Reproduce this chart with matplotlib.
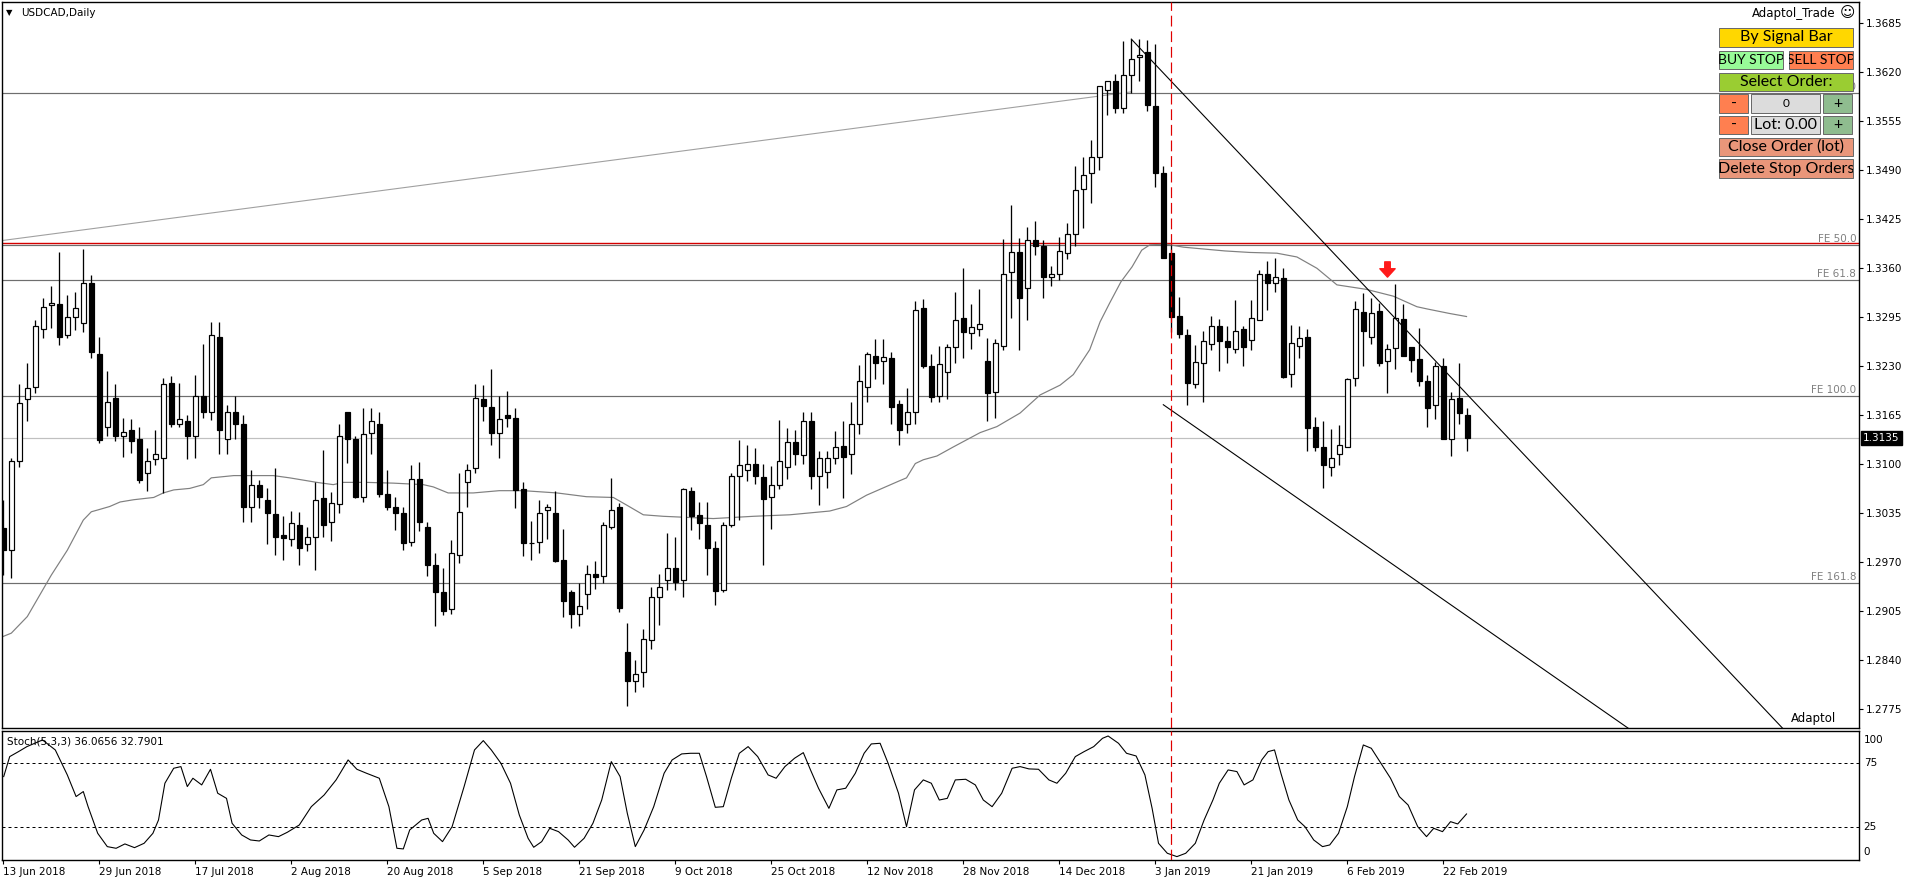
import matplotlib
matplotlib.use('Agg')
import matplotlib.pyplot as plt
import numpy as np
from matplotlib.patches import Rectangle
from matplotlib.path import Path
import matplotlib.transforms as mtransforms

W, H, DPI = 1916, 884, 100

# ---------------- data ----------------
symbol_title = "USDCAD,Daily"
stoch_title = "Stoch(5,3,3) 36.0656 32.7901"
date_labels = ["13 Jun 2018", "29 Jun 2018", "17 Jul 2018", "2 Aug 2018", "20 Aug 2018",
               "5 Sep 2018", "21 Sep 2018", "9 Oct 2018", "25 Oct 2018", "12 Nov 2018",
               "28 Nov 2018", "14 Dec 2018", "3 Jan 2019", "21 Jan 2019", "6 Feb 2019",
               "22 Feb 2019"]
date_label_bars = [0, 12, 24, 36, 48, 60, 72, 84, 96, 108, 120, 132, 144, 156, 168, 180]
price_ticks = [1.3685, 1.3620, 1.3555, 1.3490, 1.3425, 1.3360, 1.3295, 1.3230, 1.3165,
               1.3100, 1.3035, 1.2970, 1.2905, 1.2840, 1.2775]
stoch_levels = [100, 75, 25, 0]

ohlc = [
 (1.3015,1.3053,1.2953,1.2986),(1.2986,1.3108,1.2949,1.3104),(1.3104,1.3206,1.3096,1.3181),
 (1.3186,1.3235,1.3158,1.3201),(1.3203,1.3292,1.3195,1.3284),(1.3279,1.3320,1.3267,1.3309),
 (1.3311,1.3336,1.3281,1.3314),(1.3313,1.3381,1.3258,1.3269),(1.3271,1.3324,1.3267,1.3296),
 (1.3295,1.3328,1.3278,1.3307),(1.3288,1.3385,1.3276,1.3340),(1.3340,1.3351,1.3241,1.3249),
 (1.3246,1.3269,1.3128,1.3132),(1.3150,1.3224,1.3137,1.3183),(1.3188,1.3206,1.3131,1.3137),
 (1.3138,1.3161,1.3110,1.3143),(1.3146,1.3160,1.3115,1.3131),(1.3134,1.3150,1.3075,1.3079),
 (1.3089,1.3121,1.3064,1.3105),(1.3107,1.3146,1.3099,1.3113),(1.3109,1.3215,1.3062,1.3206),
 (1.3208,1.3217,1.3149,1.3153),(1.3154,1.3208,1.3149,1.3160),(1.3157,1.3165,1.3107,1.3137),
 (1.3137,1.3218,1.3109,1.3191),(1.3191,1.3259,1.3161,1.3169),(1.3169,1.3289,1.3159,1.3271),
 (1.3269,1.3289,1.3113,1.3145),(1.3133,1.3179,1.3113,1.3170),(1.3169,1.3191,1.3134,1.3153),
 (1.3154,1.3165,1.3023,1.3044),(1.3043,1.3093,1.3023,1.3072),(1.3073,1.3079,1.3042,1.3057),
 (1.3053,1.3068,1.2994,1.3035),(1.3034,1.3095,1.2980,1.3004),(1.3006,1.3032,1.2973,1.3002),
 (1.3001,1.3038,1.2992,1.3022),(1.3020,1.3037,1.2966,1.2989),(1.2994,1.3017,1.2985,1.3003),
 (1.3003,1.3077,1.2960,1.3053),(1.3055,1.3119,1.3004,1.3019),(1.3023,1.3063,1.2998,1.3048),
 (1.3047,1.3154,1.3035,1.3137),(1.3169,1.3170,1.3102,1.3133),(1.3133,1.3137,1.3055,1.3057),
 (1.3056,1.3174,1.3050,1.3140),(1.3141,1.3174,1.3113,1.3157),(1.3154,1.3169,1.3057,1.3060),
 (1.3060,1.3093,1.3039,1.3044),(1.3043,1.3056,1.3013,1.3035),(1.3036,1.3043,1.2986,1.2995),
 (1.2997,1.3099,1.2991,1.3080),(1.3080,1.3103,1.3011,1.3024),(1.3017,1.3024,1.2952,1.2966),
 (1.2966,1.2982,1.2886,1.2931),(1.2930,1.2962,1.2900,1.2905),(1.2908,1.3000,1.2901,1.2982),
 (1.2980,1.3088,1.2969,1.3037),(1.3076,1.3101,1.3044,1.3093),(1.3095,1.3206,1.3088,1.3188),
 (1.3186,1.3205,1.3158,1.3177),(1.3176,1.3227,1.3126,1.3142),(1.3141,1.3191,1.3109,1.3160),
 (1.3165,1.3197,1.3150,1.3162),(1.3161,1.3174,1.3042,1.3066),(1.3067,1.3076,1.2979,1.2995),
 (1.2995,1.3025,1.2973,1.2996),(1.2997,1.3053,1.2982,1.3036),(1.3039,1.3047,1.3001,1.3043),
 (1.3036,1.3065,1.2970,1.2972),(1.2973,1.3014,1.2898,1.2918),(1.2930,1.2933,1.2883,1.2901),
 (1.2902,1.2943,1.2885,1.2912),(1.2928,1.2966,1.2908,1.2954),(1.2955,1.2972,1.2934,1.2951),
 (1.2952,1.3024,1.2942,1.3020),(1.3017,1.3082,1.3014,1.3040),(1.3043,1.3049,1.2904,1.2909),
 (1.2851,1.2889,1.2780,1.2812),(1.2812,1.2840,1.2798,1.2822),(1.2825,1.2882,1.2805,1.2868),
 (1.2867,1.2937,1.2855,1.2924),(1.2924,1.2955,1.2887,1.2937),(1.2946,1.3009,1.2933,1.2962),
 (1.2963,1.3003,1.2933,1.2944),(1.2946,1.3068,1.2924,1.3067),(1.3065,1.3070,1.3013,1.3032),
 (1.3033,1.3050,1.3001,1.3022),(1.3020,1.3050,1.2953,1.2989),(1.2989,1.2998,1.2913,1.2932),
 (1.2933,1.3024,1.2931,1.3020),(1.3019,1.3089,1.3017,1.3084),(1.3084,1.3132,1.3026,1.3099),
 (1.3093,1.3126,1.3078,1.3100),(1.3100,1.3121,1.3074,1.3084),(1.3083,1.3100,1.2967,1.3054),
 (1.3056,1.3098,1.3014,1.3072),(1.3072,1.3159,1.3067,1.3104),(1.3096,1.3148,1.3081,1.3129),
 (1.3130,1.3146,1.3099,1.3113),(1.3112,1.3169,1.3101,1.3158),(1.3157,1.3169,1.3067,1.3084),
 (1.3084,1.3118,1.3046,1.3108),(1.3090,1.3118,1.3069,1.3108),(1.3109,1.3144,1.3101,1.3123),
 (1.3124,1.3157,1.3055,1.3110),(1.3113,1.3182,1.3087,1.3153),(1.3154,1.3232,1.3140,1.3211),
 (1.3202,1.3249,1.3182,1.3246),(1.3244,1.3266,1.3213,1.3235),(1.3237,1.3266,1.3206,1.3242),
 (1.3241,1.3249,1.3154,1.3176),(1.3180,1.3185,1.3125,1.3146),(1.3153,1.3201,1.3141,1.3169),
 (1.3170,1.3317,1.3154,1.3304),(1.3307,1.3319,1.3228,1.3231),(1.3231,1.3246,1.3182,1.3189),
 (1.3191,1.3257,1.3183,1.3233),(1.3223,1.3260,1.3186,1.3255),(1.3255,1.3328,1.3235,1.3292),
 (1.3294,1.3360,1.3241,1.3275),(1.3274,1.3313,1.3253,1.3282),(1.3280,1.3333,1.3270,1.3286),
 (1.3237,1.3267,1.3158,1.3195),(1.3196,1.3266,1.3162,1.3261),(1.3257,1.3399,1.3251,1.3353),
 (1.3355,1.3444,1.3294,1.3381),(1.3381,1.3400,1.3252,1.3320),(1.3334,1.3415,1.3292,1.3397),
 (1.3397,1.3423,1.3378,1.3389),(1.3389,1.3398,1.3320,1.3349),(1.3348,1.3363,1.3336,1.3353),
 (1.3353,1.3401,1.3345,1.3383),(1.3380,1.3420,1.3372,1.3405),(1.3405,1.3496,1.3389,1.3464),
 (1.3465,1.3508,1.3414,1.3484),(1.3486,1.3530,1.3446,1.3507),(1.3508,1.3602,1.3490,1.3602),
 (1.3596,1.3609,1.3563,1.3609),(1.3609,1.3618,1.3566,1.3572),(1.3572,1.3661,1.3566,1.3617),
 (1.3617,1.3664,1.3593,1.3637),(1.3640,1.3664,1.3608,1.3643),(1.3647,1.3663,1.3568,1.3576),
 (1.3575,1.3658,1.3468,1.3487),(1.3486,1.3496,1.3373,1.3373),(1.3380,1.3391,1.3276,1.3296),
 (1.3297,1.3322,1.3267,1.3273),(1.3272,1.3279,1.3178,1.3208),(1.3206,1.3258,1.3201,1.3236),
 (1.3235,1.3277,1.3182,1.3264),(1.3259,1.3297,1.3251,1.3283),(1.3283,1.3293,1.3224,1.3264),
 (1.3264,1.3284,1.3234,1.3255),(1.3253,1.3318,1.3247,1.3277),(1.3279,1.3284,1.3230,1.3255),
 (1.3265,1.3318,1.3251,1.3294),(1.3292,1.3358,1.3292,1.3353),(1.3352,1.3369,1.3304,1.3340),
 (1.3341,1.3373,1.3328,1.3348),(1.3347,1.3361,1.3214,1.3216),(1.3220,1.3285,1.3202,1.3261),
 (1.3257,1.3284,1.3241,1.3267),(1.3269,1.3280,1.3117,1.3148),(1.3149,1.3163,1.3117,1.3123),
 (1.3123,1.3158,1.3068,1.3099),(1.3096,1.3147,1.3084,1.3108),(1.3113,1.3152,1.3099,1.3125),
 (1.3123,1.3214,1.3123,1.3213),(1.3214,1.3317,1.3204,1.3306),(1.3302,1.3327,1.3230,1.3277),
 (1.3269,1.3321,1.3260,1.3301),(1.3303,1.3314,1.3231,1.3235),(1.3237,1.3260,1.3194,1.3253),
 (1.3254,1.3339,1.3226,1.3294),(1.3293,1.3312,1.3243,1.3243),(1.3255,1.3256,1.3223,1.3238),
 (1.3240,1.3281,1.3204,1.3210),(1.3211,1.3218,1.3149,1.3174),(1.3178,1.3236,1.3160,1.3230),
 (1.3230,1.3241,1.3133,1.3133),(1.3133,1.3196,1.3111,1.3187),(1.3188,1.3235,1.3153,1.3168),
 (1.3166,1.3175,1.3117,1.3135),
]
opens = [r[0] for r in ohlc]
highs = [r[1] for r in ohlc]
lows = [r[2] for r in ohlc]
closes = [r[3] for r in ohlc]

# moving average (bar index, price)
ma_bars = [-0.4, 1, 3, 6, 8, 10, 11, 12, 13.3, 14.6, 16.3, 18.8, 20, 21.3, 23.3, 25, 26, 28.8,
           33.75, 35.8, 39.2, 41.25, 42.5, 45.4, 48.75, 52.5, 53.75, 55.6, 58.75, 62, 65, 69.2,
           72.9, 76.25, 77.9, 80, 82.5, 88.75, 93.75, 98.3, 103.3, 105.4, 107.9, 112, 112.9, 114,
           115, 116.7, 118.75, 122.1, 124.2, 127.1, 129.6, 132.1, 133.75, 135.8, 137.1, 138.3,
           139.7, 141.1, 142.3, 143.3, 145.4, 147.5, 152.7, 155.8, 159.2, 161.7, 164.2, 166.7,
           170.4, 173.75, 176.7, 178, 180.8, 182.9]
ma_vals = [1.2870, 1.2876, 1.2898, 1.2953, 1.2986, 1.3026, 1.3037, 1.3040, 1.3044, 1.3050,
           1.3053, 1.3056, 1.3062, 1.3066, 1.3068, 1.3073, 1.3082, 1.3085, 1.3085, 1.3082,
           1.3076, 1.3073, 1.3076, 1.3076, 1.3075, 1.3073, 1.3070, 1.3062, 1.3062, 1.3065,
           1.3065, 1.3062, 1.3057, 1.3056, 1.3046, 1.3033, 1.3031, 1.3028, 1.3031, 1.3033,
           1.3038, 1.3044, 1.3059, 1.3078, 1.3082, 1.3101, 1.3106, 1.3111, 1.3123, 1.3142,
           1.3150, 1.3168, 1.3192, 1.3205, 1.3219, 1.3252, 1.3289, 1.3314, 1.3342, 1.3362,
           1.3384, 1.3391, 1.3392, 1.3388, 1.3383, 1.3381, 1.3380, 1.3375, 1.3360, 1.3338,
           1.3332, 1.3323, 1.3309, 1.3306, 1.3300, 1.3296]

# stochastic main line (bar index, value)
stoch_bars = [0.05,0.8,1.9,2.95,4.9,6.5,8.0,9.1,10,10.6,11.8,13,14.1,15.2,16.4,17.6,18.7,19.4,20.2,
              21.3,22.2,23,23.7,24.8,25.9,26.8,27.9,28.6,29.8,30.9,32,33.2,34.4,35.5,37,38.5,40.1,
              41.6,43.1,44.2,45.4,47,48.2,49.2,50,50.8,52.3,53.1,53.8,54.9,56.1,57.6,58.9,60,61,
              62.2,63.4,64.5,65.6,66.3,67.3,68.3,69.4,70.6,71.4,72.6,73.7,74.8,76,77.1,78,79,80.1,
              81.3,82.6,83.6,84.8,85.9,87,87.9,89,90,91,92,93.1,94.3,95.6,96.6,97.7,98.9,100,
              100.9,101.9,103.2,104.2,105.3,106.5,107.6,108.5,109.6,110.6,111.9,112.9,113.9,115,
              116,117,118,119,120.3,121.5,122.5,123.6,124.8,126.1,127.1,128.2,129.4,130.7,131.7,
              132.8,134,135.1,136.3,137.4,138.1,139.4,140.4,141.6,142.7,143.6,144.4,145.5,146.7,
              147.8,149,150.1,151.2,152,153.1,154.2,155.1,156.2,157.3,158.1,158.9,159.7,160.7,
              161.8,162.7,163.8,164.9,165.8,166.9,168,168.9,170,171,172.2,173.4,174.5,175.6,
              176.8,177.9,178.8,179.9,180.9,181.8,182.9]
stoch_vals = [64.6,80.2,84.1,88,93.2,85.4,65.9,49,52.9,41.1,20.3,9.9,8.6,12,9.1,12.5,20.3,30.7,59.4,
              71.1,72.4,56.8,63.3,58.1,70.3,51.6,47.6,28.1,19,15.1,14.3,19,17.7,21.1,26.8,41.1,50.2,
              62,77.6,70.3,67.2,63.3,41.1,8.6,8.1,22.9,30.7,32,20.3,13.8,25.5,56.8,85.4,92.7,85.4,
              75,59.4,34.6,16.4,9.4,13.8,24.2,21.6,15.1,9.4,16.4,28.1,46.3,76.3,64.6,35.9,9.9,22.9,
              41.1,67.2,77.6,82.3,82.8,82.8,64.6,40.6,41.1,63.3,82.8,88,80.2,65.9,63.3,72.4,78.9,83.3,
              69.8,55.5,39.8,54.2,55.5,67.2,82.8,90.1,90.6,75,51.6,25.5,54.2,62,
              59.4,46.3,47.6,62,62.5,58.1,46.3,41.1,51.6,71.1,72.4,70.6,70.3,62,59.4,
              67.2,80.2,84.1,88,94.5,96.3,90.6,82.8,80.7,65.9,39.8,12.5,4.7,2.1,
              4.7,12.5,30.7,46.3,59.4,69.8,68.5,58.1,62,77.6,84.1,85.4,67.2,46.3,
              30.7,25.5,15.1,9.9,11.2,20.3,41.1,64.6,89.3,86.7,75,63.3,49,42.4,
              25.5,17.7,24.2,21.6,29.4,27.6,35.4]

fe_names = ["FE 0.0", "FE 50.0", "FE 61.8", "FE 100.0", "FE 161.8"]
fe_prices = [1.3592, 1.3391, 1.3344, 1.3190, 1.2942]
red_level = 1.3393
bid_price = 1.3135
vline_bar = 146
gray_line_bars, gray_line_prices = [-5, 141], [1.3390, 1.3594]
trend1_bars, trend1_prices = [141, 222.4], [1.3664, 1.2750]
trend2_bars, trend2_prices = [145, 203.1], [1.3179, 1.2750]
arrow_bar, arrow_price = 173, 1.3359

# ---------------- figure ----------------
plt.rcParams['font.family'] = ['DejaVu Sans']
fig = plt.figure(figsize=(W / DPI, H / DPI), dpi=DPI)
fig.patch.set_facecolor('white')

def px_rect(x0, y0, x1, y1):
    return [x0 / W, 1 - y1 / H, (x1 - x0) / W, (y1 - y0) / H]

ax = fig.add_axes(px_rect(2, 2, 1859, 728.3))
ax2 = fig.add_axes(px_rect(2, 731, 1859, 860))
XL = (-0.1625, 231.96)
ax.set_xlim(*XL)
ax2.set_xlim(*XL)
ax.set_ylim(1.27498, 1.37132)
ax2.set_ylim(-0.55, 100.2)
for a in (ax, ax2):
    for s in a.spines.values():
        s.set_linewidth(1.0)
        s.set_color('black')

PX = 72.0 / DPI  # one pixel in points

# horizontal levels
for p in fe_prices:
    ax.axhline(p, color='#6e6e6e', lw=1.2 * PX, zorder=1)
ax.axhline(red_level, color='#d40000', lw=1.4 * PX, zorder=1.5)
ax.axhline(bid_price, color='#c0c0c0', lw=1.2 * PX, zorder=1)
for name, p in zip(fe_names, fe_prices):
    t = ax.annotate(name, xy=(1, p), xycoords=('axes fraction', 'data'), xytext=(-2, 1),
                    textcoords='offset points', ha='right', va='bottom', fontsize=7.5,
                    color='#808080', zorder=2)
    if name == "FE 0.0":
        # mostly hidden behind the trade-panel buttons, as in the source chart
        t.set_fontsize(7.5)
        clip = Rectangle((1853.5 / W, 1 - 95 / H), 6 / W, 20 / H, transform=fig.transFigure,
                         visible=False)
        fig.add_artist(clip)
        t.set_clip_path(clip)

# trend lines
ax.plot(gray_line_bars, gray_line_prices, color='#a0a0a0', lw=1.1 * PX, zorder=1.2)
ax.plot(trend1_bars, trend1_prices, color='black', lw=1.1 * PX, zorder=4)
ax.plot(trend2_bars, trend2_prices, color='black', lw=1.1 * PX, zorder=4)

# moving average
ax.plot(ma_bars, ma_vals, color='#808080', lw=1.2 * PX, zorder=1.8)

# candles
x = np.arange(len(opens))
o, hi, lo, c = map(np.asarray, (opens, highs, lows, closes))
up = c >= o
ax.vlines(x, lo, hi, color='black', lw=1.3 * PX, zorder=2)
bb = np.minimum(o, c)
bh = np.maximum(np.abs(c - o), 0.00003)
ax.bar(x[up], bh[up], bottom=bb[up], width=0.6, facecolor='white', edgecolor='black',
       linewidth=1.2 * PX, zorder=3)
ax.bar(x[~up], bh[~up], bottom=bb[~up], width=0.6, facecolor='black', edgecolor='black',
       linewidth=1.2 * PX, zorder=3)

# red arrow
arrow_path = Path([(-0.18, 0.5), (0.18, 0.5), (0.18, 0.05), (0.5, 0.05), (0.0, -0.5),
                   (-0.5, 0.05), (-0.18, 0.05), (-0.18, 0.5)], closed=True)
ax.plot([arrow_bar], [arrow_price], marker=arrow_path, markersize=11, color='#ff1a1a',
        markeredgecolor='#ff1a1a', zorder=6)

# vertical red dashed line
for a in (ax, ax2):
    a.axvline(vline_bar, color='#e00000', lw=1.2 * PX, linestyle=(0, (9, 4)), zorder=5)

# price axis
ax.set_xticks([])
ax.yaxis.tick_right()
ax.set_yticks(price_ticks)
ax.set_yticklabels([f"{p:.4f}" for p in price_ticks])
ax.tick_params(axis='y', direction='out', length=3, width=0.8, pad=2, labelsize=7.5)
ax.annotate(f"{bid_price:.4f}", xy=(1, bid_price), xycoords=('axes fraction', 'data'),
            xytext=(3, 0), textcoords='offset points', ha='left', va='center', fontsize=7.5,
            color='white', zorder=10,
            bbox=dict(boxstyle='square,pad=0.2', fc='black', ec='black'),
            annotation_clip=False)

# titles / texts
fig.text(6 / W, 1 - 12.5 / H, "\u25BC", fontsize=6, va='center', ha='left')
fig.text(21 / W, 1 - 12.5 / H, symbol_title, fontsize=7.5, va='center', ha='left')
ax.text(0.9635, 0.004, "Adaptol", transform=ax.transAxes, fontsize=8.5, ha='left', va='bottom')
fig.text(1836 / W, 1 - 13 / H, "Adaptol_Trade", fontsize=8.5, va='center', ha='right')
fig.text(1840 / W, 1 - 13 / H, "\u263A", fontsize=10.5, va='center', ha='left')

# stochastic panel
ax2.plot(stoch_bars, stoch_vals, color='black', lw=1.1 * PX, zorder=3)
for lvl in (75, 25):
    ax2.axhline(lvl, color='black', lw=1.0 * PX, linestyle=(0, (3, 3)), zorder=1)
ax2.text(5 / 1857, 0.915, stoch_title, transform=ax2.transAxes, fontsize=7.5,
         ha='left', va='center')
bt = mtransforms.blended_transform_factory(ax2.transAxes, ax2.transData)
for lvl in stoch_levels:
    if lvl == 100:
        ax2.text(1.0025, 97, str(lvl), transform=bt, fontsize=7.5, ha='left', va='top', clip_on=False)
    elif lvl == 0:
        ax2.text(1.0025, 1.5, str(lvl), transform=bt, fontsize=7.5, ha='left', va='bottom', clip_on=False)
    else:
        ax2.text(1.0025, lvl, str(lvl), transform=bt, fontsize=7.5, ha='left', va='center', clip_on=False)
ax2.set_yticks([])
ax2.set_xticks(date_label_bars)
ax2.set_xticklabels(date_labels, ha='left')
ax2.tick_params(axis='x', direction='out', length=3, width=0.8, pad=2, labelsize=7.5)

# trade panel buttons
buttons = [
    (1719.3, 28.3, 1853.3, 46.7, "By Signal Bar", '#FFD700'),
    (1719.3, 50.7, 1783.3, 69.0, "BUY STOP", '#98FB98'),
    (1789.3, 50.7, 1853.3, 69.0, "SELL STOP", '#FF7F50'),
    (1719.3, 72.7, 1853.3, 91.3, "Select Order:", '#9ACD32'),
    (1719.3, 94.3, 1748.3, 113.0, "-", '#FF7F50'),
    (1751.3, 94.3, 1820.0, 113.0, "0", '#DCDCDC'),
    (1823.3, 94.3, 1852.3, 113.0, "+", '#8FBC8F'),
    (1719.3, 115.7, 1748.3, 134.3, "-", '#FF7F50'),
    (1751.3, 115.7, 1820.0, 134.3, "Lot: 0.00", '#DCDCDC'),
    (1823.3, 115.7, 1852.3, 134.3, "+", '#8FBC8F'),
    (1719.3, 137.7, 1853.3, 156.0, "Close Order (lot)", '#E9967A'),
    (1719.3, 159.3, 1853.3, 178.0, "Delete Stop Orders", '#E9967A'),
]
for x0, y0, x1, y1, label, fc in buttons:
    r = Rectangle((x0 / W, 1 - y1 / H), (x1 - x0) / W, (y1 - y0) / H,
                  transform=fig.transFigure, facecolor=fc, edgecolor='#6a6a6a',
                  lw=1.0 * PX, zorder=20)
    fig.add_artist(r)
    if label == "0":
        fs = 8.5
    elif label in ("BUY STOP", "SELL STOP"):
        fs = 10.0
    else:
        fs = 11.5
    t = fig.text((x0 + x1) / 2 / W, 1 - (y0 + y1) / 2 / H, label, ha='center', va='center',
                 fontsize=fs, family=['Lato', 'DejaVu Sans'], zorder=21)
    t.set_clip_path(r)

fig.savefig('out.png', dpi=DPI, facecolor='white')
